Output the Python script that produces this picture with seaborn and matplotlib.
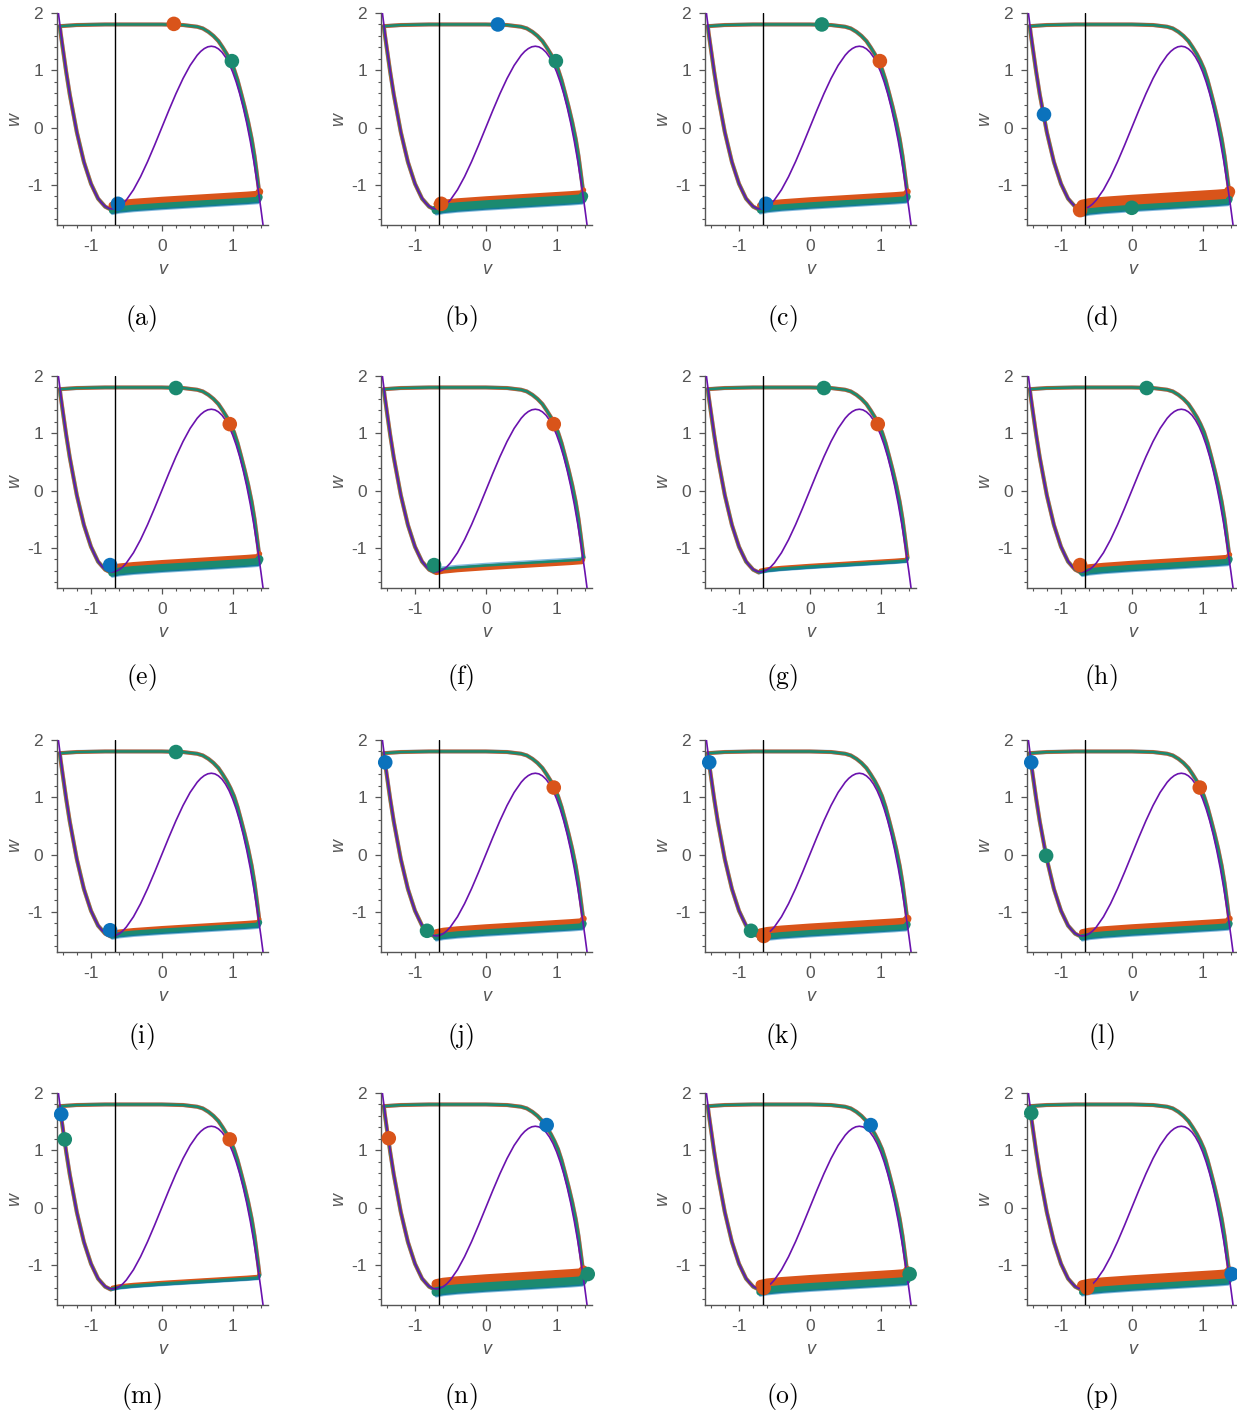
import matplotlib
matplotlib.use("Agg")
import matplotlib.pyplot as plt
import matplotlib.transforms as mtransforms
from matplotlib.ticker import MultipleLocator
import pandas as pd
import seaborn as sns

# v-nullcline (cubic)
null_v = [-1.46, -1.45, -1.4, -1.35, -1.3, -1.25, -1.2, -1.15, -1.1, -1.05, -1.0, -0.95, -0.9,
          -0.85, -0.8, -0.75, -0.7, -0.65, -0.6, -0.55, -0.5, -0.4, -0.3, -0.2, -0.1, 0.0,
          0.1, 0.2, 0.3, 0.4, 0.5, 0.55, 0.6, 0.65, 0.7, 0.75, 0.8, 0.85, 0.9, 0.95, 1.0,
          1.05, 1.1, 1.15, 1.2, 1.25, 1.3, 1.35, 1.4, 1.43]
null_w = [2.0, 1.9, 1.42, 0.985, 0.592, 0.239, -0.075, -0.351, -0.592, -0.798, -0.973, -1.117,
          -1.23, -1.316, -1.374, -1.409, -1.42, -1.41, -1.379, -1.33, -1.263, -1.085, -0.857,
          -0.592, -0.302, 0.0, 0.302, 0.592, 0.857, 1.085, 1.263, 1.33, 1.379, 1.41, 1.42,
          1.409, 1.374, 1.316, 1.23, 1.117, 0.973, 0.798, 0.592, 0.351, 0.075, -0.239,
          -0.592, -0.985, -1.42, -1.7]

# w-nullcline position
w_null_v = -0.66

# limit cycle: top + right branch, bottom branch, left branch
top_v = [-1.44, -1.2, -0.8, -0.4, 0.0, 0.3, 0.5, 0.58, 0.66, 0.73, 0.80, 0.86, 0.92, 0.97,
         1.02, 1.07, 1.12, 1.17, 1.22, 1.27, 1.31, 1.34, 1.365, 1.38]
top_w = [1.77, 1.79, 1.80, 1.80, 1.80, 1.79, 1.76, 1.73, 1.67, 1.60, 1.51, 1.40, 1.28, 1.16,
         1.02, 0.83, 0.60, 0.36, 0.10, -0.20, -0.50, -0.78, -1.02, -1.17]
bot_v = [1.38, 1.36, 1.2, 0.8, 0.4, 0.0, -0.4, -0.6, -0.70]
bot_w = [-1.17, -1.22, -1.235, -1.265, -1.295, -1.325, -1.36, -1.385, -1.41]
left_v = [-0.72, -0.8, -0.9, -1.0, -1.1, -1.2, -1.3, -1.35, -1.4, -1.43, -1.44]
left_w = [-1.43, -1.38, -1.24, -0.98, -0.60, -0.08, 0.58, 0.97, 1.40, 1.66, 1.77]

panels = list("abcdefghijklmnop")

# oscillator positions in each panel
mk_panel = ["a", "a", "a", "b", "b", "b", "c", "c", "c", "d", "d", "d",
            "e", "e", "e", "f", "f", "g", "g", "h", "h", "i", "i",
            "j", "j", "j", "k", "k", "k", "l", "l", "l", "m", "m", "m",
            "n", "n", "n", "o", "o", "o", "p", "p", "p"]
mk_osc = ["o", "g", "b", "b", "g", "o", "g", "o", "b", "b", "g", "o",
          "g", "o", "b", "o", "g", "g", "o", "g", "o", "g", "b",
          "b", "o", "g", "b", "g", "o", "b", "g", "o", "b", "g", "o",
          "o", "b", "g", "b", "g", "o", "g", "b", "o"]
mk_v = [0.17, 0.99, -0.62, 0.17, 0.99, -0.63, 0.17, 0.99, -0.62, -1.24, 0.0, -0.73,
        0.20, 0.96, -0.73, 0.96, -0.73, 0.20, 0.96, 0.21, -0.73, 0.20, -0.73,
        -1.42, 0.96, -0.83, -1.42, -0.83, -0.65, -1.42, -1.21, 0.96, -1.42, -1.37, 0.96,
        -1.37, 0.86, 1.44, 0.86, 1.41, -0.65, -1.42, 1.41, -0.63]
mk_w = [1.81, 1.16, -1.33, 1.80, 1.16, -1.33, 1.80, 1.16, -1.33, 0.23, -1.40, -1.44,
        1.79, 1.16, -1.30, 1.16, -1.30, 1.79, 1.16, 1.79, -1.30, 1.79, -1.32,
        1.61, 1.17, -1.33, 1.61, -1.33, -1.42, 1.61, -0.02, 1.17, 1.63, 1.19, 1.19,
        1.21, 1.44, -1.16, 1.44, -1.16, -1.40, 1.65, -1.16, -1.40]

# thickness (px) of each oscillator's band on the slow lower branch, and stacking order
band_o = [6, 4, 5, 10, 4, 2, 1.5, 4, 2.5, 5, 6.5, 5, 1.5, 8, 8, 9]
band_g = [5, 8, 5, 5, 6.5, 2.5, 2, 5, 4, 5, 5, 5, 2, 8, 6.5, 5]
band_b = [1, 1, 1, 1, 1, 1.5, 0.5, 1, 1, 1, 1, 1, 0.5, 1, 1, 1]
band_order = ["ogb"] * 5 + ["bgo"] + ["ogb"] * 10

colors = {"o": "#D9541A", "g": "#1B8A70", "b": "#0B72BC"}
purple = "#6A12AE"
grey = "#555555"

sns.set_theme(style="ticks")
plt.rcParams["font.family"] = ["Liberation Sans", "DejaVu Sans"]
plt.rcParams["mathtext.fontset"] = "cm"
plt.rcParams["axes.unicode_minus"] = False

fig = plt.figure(figsize=(12.37, 14.11), dpi=100)
W, H = 1237.0, 1411.0
col_left = [57, 381, 705, 1027]
row_top = [13, 376, 740, 1093]
cap_x = [141, 461, 782, 1101]
cap_y = [319, 678, 1037, 1396]

markers = pd.DataFrame({"panel": mk_panel, "osc": mk_osc, "v": mk_v, "w": mk_w})
cyc_v = top_v + bot_v + left_v
cyc_w = top_w + bot_w + left_w
px = 0.72  # points per pixel at 100 dpi

for i, p in enumerate(panels):
    r, c = divmod(i, 4)
    ax = fig.add_axes([col_left[c] / W, 1 - (row_top[r] + 212) / H, 211 / W, 212 / H])

    # thin full cycles of the three oscillators
    for k, lw, a in (("b", 4.2, 0.45), ("o", 3.8, 1.0), ("g", 2.6, 1.0)):
        ax.plot(cyc_v, cyc_w, color=colors[k], lw=lw * px, zorder=1, alpha=a,
                solid_capstyle="round", solid_joinstyle="round")

    # stacked bands on the lower branch
    widths = {"o": band_o[i], "g": band_g[i], "b": band_b[i]}
    top = sum(widths.values()) / 2.0
    for k in band_order[i]:
        wd = widths[k]
        off = (top - wd / 2.0) * px
        tr = mtransforms.offset_copy(ax.transData, fig=fig, x=0, y=off, units="points")
        ax.plot(bot_v, bot_w, color=colors[k], lw=(wd + 1.5) * px, transform=tr, zorder=2,
                alpha=0.5 if k == "b" else 1.0,
                solid_capstyle="round", solid_joinstyle="round")
        top -= wd

    # nullclines
    ax.plot(null_v, null_w, color=purple, lw=1.2, zorder=3)
    ax.axvline(w_null_v, color="black", lw=1.0, zorder=5)

    d = markers[markers["panel"] == p]
    sns.scatterplot(data=d, x="v", y="w", hue="osc", palette=colors, s=110,
                    edgecolor="none", legend=False, ax=ax, zorder=4, clip_on=False)

    ax.set_xlim(-1.48, 1.5)
    ax.set_ylim(-1.7, 2.0)
    ax.xaxis.set_major_locator(MultipleLocator(1))
    ax.yaxis.set_major_locator(MultipleLocator(1))
    ax.xaxis.set_minor_locator(MultipleLocator(0.2))
    ax.yaxis.set_minor_locator(MultipleLocator(0.2))
    ax.tick_params(which="major", direction="out", length=4, width=0.9, color=grey,
                   labelsize=12.5, labelcolor=grey, pad=6)
    ax.tick_params(which="minor", direction="out", length=2.2, width=0.8, color=grey)
    for s in ("top", "right"):
        ax.spines[s].set_visible(False)
    for s in ("left", "bottom"):
        ax.spines[s].set_color(grey)
        ax.spines[s].set_linewidth(1.0)
    ax.set_xlabel("v", fontsize=13, color=grey, style="italic", labelpad=5)
    ax.set_ylabel("w", fontsize=13, color=grey, style="italic", labelpad=3)

    fig.text(cap_x[c] / W, 1 - cap_y[r] / H, r"$\mathrm{(" + p + ")}$", fontsize=18.5,
             ha="center", va="center", color="black")

fig.savefig("out.png", dpi=100)
